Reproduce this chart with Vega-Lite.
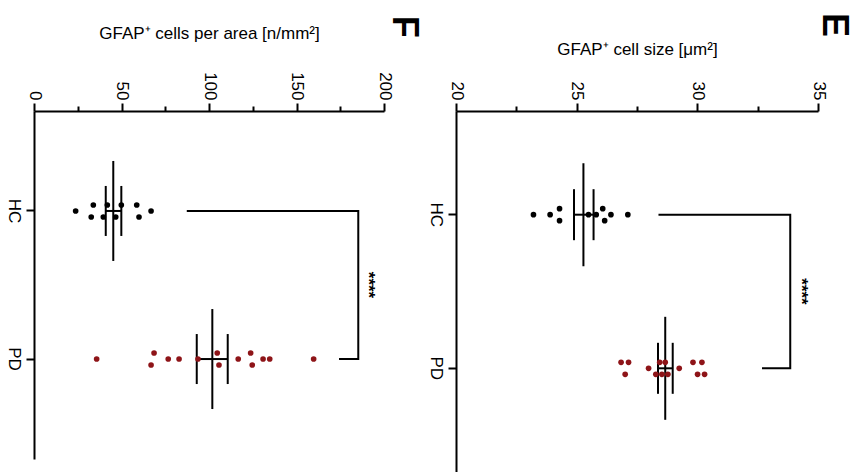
{
  "$schema": "https://vega.github.io/schema/vega-lite/v6.json",
  "padding": {"left": 5, "top": 13, "right": 5, "bottom": 0},
  "background": "white",
  "spacing": 5,
  "config": {
    "view": {"stroke": null},
    "font": "Liberation Sans",
    "axis": {"domainColor": "black", "domainWidth": 2, "tickColor": "black", "tickWidth": 2, "tickSize": 8, "labelColor": "black", "labelFontSize": 17, "labelFont": "Liberation Sans", "titleFont": "Liberation Sans", "titleFontSize": 17, "titleFontWeight": "normal", "titleColor": "black", "grid": false, "labelPadding": 3, "labelOverlap": false},
    "title": {"font": "Liberation Sans", "color": "black"}
  },
  "datasets": {
    "points": [
      {"panel": "F", "group": "HC", "value": 23.8, "lane": 0},
      {"panel": "F", "group": "HC", "value": 33.9, "lane": -1},
      {"panel": "F", "group": "HC", "value": 32.7, "lane": 1},
      {"panel": "F", "group": "HC", "value": 41.9, "lane": -1},
      {"panel": "F", "group": "HC", "value": 39.6, "lane": 1},
      {"panel": "F", "group": "HC", "value": 49.9, "lane": -1},
      {"panel": "F", "group": "HC", "value": 46.7, "lane": 1},
      {"panel": "F", "group": "HC", "value": 58.7, "lane": -1},
      {"panel": "F", "group": "HC", "value": 60.0, "lane": 1},
      {"panel": "F", "group": "HC", "value": 66.9, "lane": 0},
      {"panel": "F", "group": "PD", "value": 35.8, "lane": 0},
      {"panel": "F", "group": "PD", "value": 68.6, "lane": -1},
      {"panel": "F", "group": "PD", "value": 66.9, "lane": 1},
      {"panel": "F", "group": "PD", "value": 76.7, "lane": 0},
      {"panel": "F", "group": "PD", "value": 82.9, "lane": 0},
      {"panel": "F", "group": "PD", "value": 93.7, "lane": 0},
      {"panel": "F", "group": "PD", "value": 104.7, "lane": -1},
      {"panel": "F", "group": "PD", "value": 105.7, "lane": 1},
      {"panel": "F", "group": "PD", "value": 116.7, "lane": 0},
      {"panel": "F", "group": "PD", "value": 123.8, "lane": -1},
      {"panel": "F", "group": "PD", "value": 124.7, "lane": 1},
      {"panel": "F", "group": "PD", "value": 130.9, "lane": 0},
      {"panel": "F", "group": "PD", "value": 134.7, "lane": 0},
      {"panel": "F", "group": "PD", "value": 159.8, "lane": 0},
      {"panel": "E", "group": "HC", "value": 23.21, "lane": 0},
      {"panel": "E", "group": "HC", "value": 23.90, "lane": 0},
      {"panel": "E", "group": "HC", "value": 24.29, "lane": -1},
      {"panel": "E", "group": "HC", "value": 24.29, "lane": 1},
      {"panel": "E", "group": "HC", "value": 25.49, "lane": 0},
      {"panel": "E", "group": "HC", "value": 25.81, "lane": 0},
      {"panel": "E", "group": "HC", "value": 26.08, "lane": -1},
      {"panel": "E", "group": "HC", "value": 26.16, "lane": 1},
      {"panel": "E", "group": "HC", "value": 26.42, "lane": 0},
      {"panel": "E", "group": "HC", "value": 27.12, "lane": 0},
      {"panel": "E", "group": "PD", "value": 26.84, "lane": -1},
      {"panel": "E", "group": "PD", "value": 27.15, "lane": -1},
      {"panel": "E", "group": "PD", "value": 27.01, "lane": 1},
      {"panel": "E", "group": "PD", "value": 27.98, "lane": 0},
      {"panel": "E", "group": "PD", "value": 28.44, "lane": -1},
      {"panel": "E", "group": "PD", "value": 28.67, "lane": -1},
      {"panel": "E", "group": "PD", "value": 28.28, "lane": 1},
      {"panel": "E", "group": "PD", "value": 28.53, "lane": 1},
      {"panel": "E", "group": "PD", "value": 28.78, "lane": 1},
      {"panel": "E", "group": "PD", "value": 29.25, "lane": 0},
      {"panel": "E", "group": "PD", "value": 29.82, "lane": -1},
      {"panel": "E", "group": "PD", "value": 30.19, "lane": -1},
      {"panel": "E", "group": "PD", "value": 30.01, "lane": 1},
      {"panel": "E", "group": "PD", "value": 30.30, "lane": 1}
    ],
    "summary": [
      {"panel": "F", "group": "HC", "mean": 45.3, "lo": 41.0, "hi": 49.9},
      {"panel": "F", "group": "PD", "mean": 101.9, "lo": 93.0, "hi": 110.7},
      {"panel": "E", "group": "HC", "mean": 25.28, "lo": 24.89, "hi": 25.70},
      {"panel": "E", "group": "PD", "mean": 28.67, "lo": 28.37, "hi": 28.98}
    ],
    "bracket": [
      {"panel": "F", "step": 1, "group": "HC", "value": 87.3},
      {"panel": "F", "step": 2, "group": "HC", "value": 185.3},
      {"panel": "F", "step": 3, "group": "PD", "value": 185.3},
      {"panel": "F", "step": 4, "group": "PD", "value": 174.3},
      {"panel": "E", "step": 1, "group": "HC", "value": 28.39},
      {"panel": "E", "step": 2, "group": "HC", "value": 33.85},
      {"panel": "E", "step": 3, "group": "PD", "value": 33.85},
      {"panel": "E", "step": 4, "group": "PD", "value": 32.68}
    ],
    "stars": [
      {"panel": "F", "group": "mid", "value": 190.9, "label": "****"},
      {"panel": "E", "group": "mid", "value": 34.31, "label": "****"}
    ]
  },
  "hconcat": [
    {
      "width": 350,
      "height": 348,
      "title": {"text": "F", "angle": 90, "anchor": "end", "frame": "group", "fontSize": 36, "fontWeight": "bold", "align": "center", "baseline": "middle", "dx": 0, "dy": -20, "offset": -24},
      "resolve": {"axis": {"x": "independent"}},
      "layer": [
        {
          "data": {"name": "summary"},
          "transform": [{"filter": "datum.panel === 'F'"}],
          "mark": {"type": "tick", "orient": "vertical", "color": "black", "thickness": 2, "opacity": 1},
          "encoding": {
            "x": {"field": "mean", "type": "quantitative", "scale": {"domain": [0, 200], "nice": false}, "axis": {"orient": "top", "values": [0, 50, 100, 150, 200], "labelAngle": 90, "labelAlign": "right", "labelBaseline": "middle", "title": "GFAP⁺ cells per area [n/mm²]", "titlePadding": 29}},
            "y": {"field": "group", "type": "nominal", "scale": {"type": "band", "domain": ["t", "HC", "mid", "PD", "b"], "paddingInner": 1, "paddingOuter": 0.35}, "axis": {"values": ["HC", "PD"], "labelAngle": 90, "labelAlign": "center", "labelBaseline": "top", "title": null, "labelPadding": 5}},
            "size": {"value": 100}
          }
        },
        {
          "data": {"name": "summary"},
          "transform": [{"filter": "datum.panel === 'F'"}],
          "mark": {"type": "tick", "orient": "vertical", "color": "black", "thickness": 2, "opacity": 1},
          "encoding": {
            "x": {"field": "lo", "type": "quantitative", "axis": {"orient": "top", "values": [25, 75, 125, 175], "labels": false, "domain": false, "tickSize": 5, "title": null}},
            "y": {"field": "group", "type": "nominal"},
            "size": {"value": 50}
          }
        },
        {
          "data": {"name": "summary"},
          "transform": [{"filter": "datum.panel === 'F'"}],
          "mark": {"type": "tick", "orient": "vertical", "color": "black", "thickness": 2, "opacity": 1},
          "encoding": {
            "x": {"field": "hi", "type": "quantitative", "axis": null},
            "y": {"field": "group", "type": "nominal"},
            "size": {"value": 50}
          }
        },
        {
          "data": {"name": "summary"},
          "transform": [{"filter": "datum.panel === 'F'"}],
          "mark": {"type": "rule", "color": "black", "strokeWidth": 2},
          "encoding": {
            "x": {"field": "lo", "type": "quantitative", "axis": null},
            "x2": {"field": "hi"},
            "y": {"field": "group", "type": "nominal"}
          }
        },
        {
          "data": {"name": "bracket"},
          "transform": [{"filter": "datum.panel === 'F'"}],
          "mark": {"type": "line", "color": "black", "strokeWidth": 2},
          "encoding": {
            "x": {"field": "value", "type": "quantitative", "axis": null},
            "y": {"field": "group", "type": "nominal"},
            "order": {"field": "step", "type": "quantitative"}
          }
        },
        {
          "data": {"name": "stars"},
          "transform": [{"filter": "datum.panel === 'F'"}],
          "mark": {"type": "text", "angle": 90, "fontSize": 17, "fontWeight": "bold", "color": "black", "align": "center", "baseline": "middle"},
          "encoding": {
            "x": {"field": "value", "type": "quantitative", "axis": null},
            "y": {"field": "group", "type": "nominal"},
            "text": {"field": "label"}
          }
        },
        {
          "data": {"name": "points"},
          "transform": [{"filter": "datum.panel === 'F'"}],
          "mark": {"type": "circle", "opacity": 1, "size": 32},
          "encoding": {
            "x": {"field": "value", "type": "quantitative", "axis": null},
            "y": {"field": "group", "type": "nominal"},
            "yOffset": {"field": "lane", "type": "quantitative", "scale": {"domain": [-1, 1], "range": [-6, 6]}},
            "color": {"field": "group", "type": "nominal", "scale": {"domain": ["HC", "PD"], "range": ["black", "#8e1418"]}, "legend": null}
          }
        }
      ]
    },
    {
      "width": 362,
      "height": 361,
      "title": {"text": "E", "angle": 90, "anchor": "end", "frame": "group", "fontSize": 36, "fontWeight": "bold", "align": "center", "baseline": "middle", "dx": 0, "dy": -16, "offset": -9},
      "resolve": {"axis": {"x": "independent"}},
      "layer": [
        {
          "data": {"name": "summary"},
          "transform": [{"filter": "datum.panel === 'E'"}],
          "mark": {"type": "tick", "orient": "vertical", "color": "black", "thickness": 2, "opacity": 1},
          "encoding": {
            "x": {"field": "mean", "type": "quantitative", "scale": {"domain": [20, 35], "nice": false, "zero": false}, "axis": {"orient": "top", "values": [20, 25, 30, 35], "labelAngle": 90, "labelAlign": "right", "labelBaseline": "middle", "title": "GFAP⁺ cell size [μm²]", "titlePadding": 23}},
            "y": {"field": "group", "type": "nominal", "scale": {"type": "band", "domain": ["t", "HC", "mid", "PD", "b"], "paddingInner": 1, "paddingOuter": 0.35}, "axis": {"values": ["HC", "PD"], "labelAngle": 90, "labelAlign": "center", "labelBaseline": "top", "title": null, "labelPadding": 5}},
            "size": {"value": 103}
          }
        },
        {
          "data": {"name": "summary"},
          "transform": [{"filter": "datum.panel === 'E'"}],
          "mark": {"type": "tick", "orient": "vertical", "color": "black", "thickness": 2, "opacity": 1},
          "encoding": {
            "x": {"field": "lo", "type": "quantitative", "axis": {"orient": "top", "values": [22.5, 27.5, 32.5], "labels": false, "domain": false, "tickSize": 5, "title": null}},
            "y": {"field": "group", "type": "nominal"},
            "size": {"value": 51}
          }
        },
        {
          "data": {"name": "summary"},
          "transform": [{"filter": "datum.panel === 'E'"}],
          "mark": {"type": "tick", "orient": "vertical", "color": "black", "thickness": 2, "opacity": 1},
          "encoding": {
            "x": {"field": "hi", "type": "quantitative", "axis": null},
            "y": {"field": "group", "type": "nominal"},
            "size": {"value": 51}
          }
        },
        {
          "data": {"name": "summary"},
          "transform": [{"filter": "datum.panel === 'E'"}],
          "mark": {"type": "rule", "color": "black", "strokeWidth": 2},
          "encoding": {
            "x": {"field": "lo", "type": "quantitative", "axis": null},
            "x2": {"field": "hi"},
            "y": {"field": "group", "type": "nominal"}
          }
        },
        {
          "data": {"name": "bracket"},
          "transform": [{"filter": "datum.panel === 'E'"}],
          "mark": {"type": "line", "color": "black", "strokeWidth": 2},
          "encoding": {
            "x": {"field": "value", "type": "quantitative", "axis": null},
            "y": {"field": "group", "type": "nominal"},
            "order": {"field": "step", "type": "quantitative"}
          }
        },
        {
          "data": {"name": "stars"},
          "transform": [{"filter": "datum.panel === 'E'"}],
          "mark": {"type": "text", "angle": 90, "fontSize": 17, "fontWeight": "bold", "color": "black", "align": "center", "baseline": "middle"},
          "encoding": {
            "x": {"field": "value", "type": "quantitative", "axis": null},
            "y": {"field": "group", "type": "nominal"},
            "text": {"field": "label"}
          }
        },
        {
          "data": {"name": "points"},
          "transform": [{"filter": "datum.panel === 'E'"}],
          "mark": {"type": "circle", "opacity": 1, "size": 32},
          "encoding": {
            "x": {"field": "value", "type": "quantitative", "axis": null},
            "y": {"field": "group", "type": "nominal"},
            "yOffset": {"field": "lane", "type": "quantitative", "scale": {"domain": [-1, 1], "range": [-6, 6]}},
            "color": {"field": "group", "type": "nominal", "scale": {"domain": ["HC", "PD"], "range": ["black", "#8e1418"]}, "legend": null}
          }
        }
      ]
    }
  ]
}
